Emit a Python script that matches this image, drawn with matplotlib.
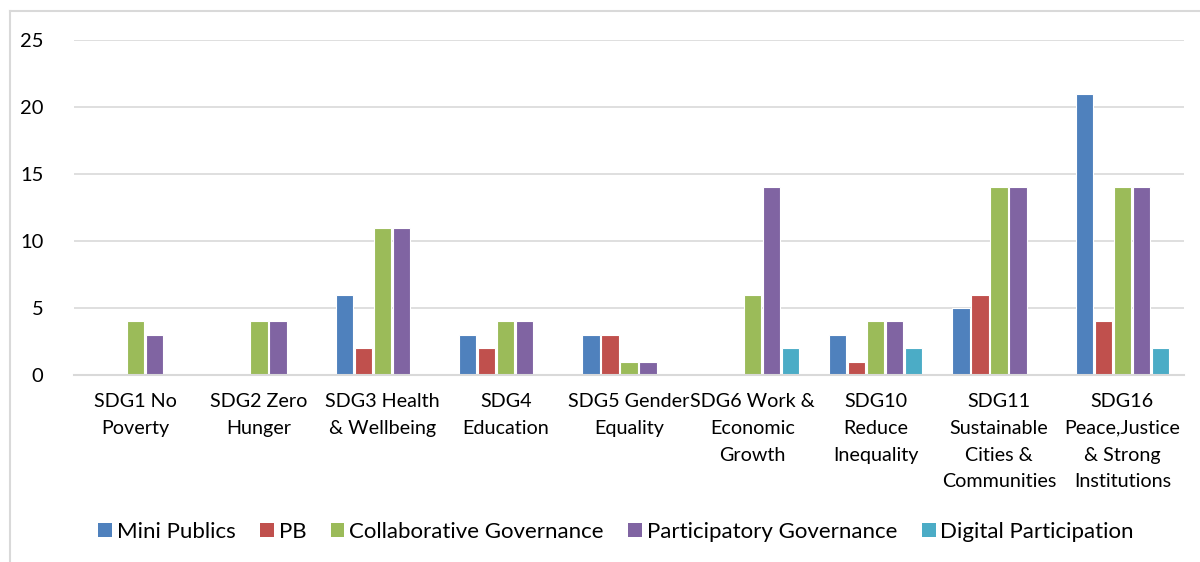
import matplotlib
matplotlib.use("Agg")
import matplotlib.pyplot as plt
import numpy as np
from matplotlib.patches import Patch
from matplotlib.lines import Line2D

plt.rcParams['font.family'] = ['Lato', 'DejaVu Sans']

categories = [
    "SDG1 No\nPoverty", "SDG2 Zero\nHunger", "SDG3 Health\n& Wellbeing",
    "SDG4\nEducation", "SDG5 Gender\nEquality", "SDG6 Work &\nEconomic\nGrowth",
    "SDG10\nReduce\nInequality", "SDG11\nSustainable\nCities &\nCommunities",
    "SDG16\nPeace,Justice\n& Strong\nInstitutions",
]
series_names = ["Mini Publics", "PB", "Collaborative Governance",
                "Participatory Governance", "Digital Participation"]
mini_publics = [0, 0, 6, 3, 3, 0, 3, 5, 21]
pb = [0, 0, 2, 2, 3, 0, 1, 6, 4]
collaborative = [4, 4, 11, 4, 1, 6, 4, 14, 14]
participatory = [3, 4, 11, 4, 1, 14, 4, 14, 14]
digital = [0, 0, 0, 0, 0, 2, 2, 0, 2]
y_ticks = [0, 5, 10, 15, 20, 25]

colors = ["#4F81BD", "#C0504D", "#9BBB59", "#8064A2", "#4BACC6"]
all_series = [mini_publics, pb, collaborative, participatory, digital]

fig = plt.figure(figsize=(12, 5.62), dpi=100)
ax = fig.add_axes([74 / 1200, 1 - 375 / 562, (1184 - 74) / 1200, (375 - 40) / 562])

x = np.arange(len(categories))
step = 0.154
width = 0.14
for i, (vals, col) in enumerate(zip(all_series, colors)):
    ax.bar(x + (i - 2) * step, vals, width=width, color=col,
           edgecolor="white", linewidth=0.8, zorder=3)

ax.set_xlim(-0.5, len(categories) - 0.5)
ax.set_ylim(0, 25)
ax.set_yticks(y_ticks)
ax.set_yticklabels([str(t) for t in y_ticks], fontsize=14.5, color="#000000")
ax.set_xticks(x)
ax.set_xticklabels(categories, fontsize=14.2, color="#000000", linespacing=1.7,
                   va="top")
ax.tick_params(axis="both", length=0)
ax.tick_params(axis="y", pad=22)
ax.tick_params(axis="x", pad=13)
ax.grid(axis="y", color="#D9D9D9", linewidth=1.2, zorder=0)
for s in ["top", "right", "left"]:
    ax.spines[s].set_visible(False)
ax.spines["bottom"].set_color("#D9D9D9")
ax.spines["bottom"].set_linewidth(1.5)
ax.spines["bottom"].set_zorder(4)

# chart-area frame (left and top edges)
fig.add_artist(Line2D([9.5 / 1200, 9.5 / 1200], [0, 1 - 10.5 / 562],
                      transform=fig.transFigure, color="#D9D9D9", linewidth=1.5))
fig.add_artist(Line2D([9.5 / 1200, 1], [1 - 10.5 / 562, 1 - 10.5 / 562],
                      transform=fig.transFigure, color="#D9D9D9", linewidth=1.5))

handles = [Patch(facecolor=c, edgecolor="none") for c in colors]
fig.legend(handles, series_names, loc="center", bbox_to_anchor=(616 / 1200, 1 - 532 / 562),
           ncol=5, frameon=False, fontsize=16, handlelength=0.62, handleheight=0.62,
           handletextpad=0.22, columnspacing=1.1, borderpad=0, borderaxespad=0)

fig.savefig("out.png", dpi=100, facecolor="white")
